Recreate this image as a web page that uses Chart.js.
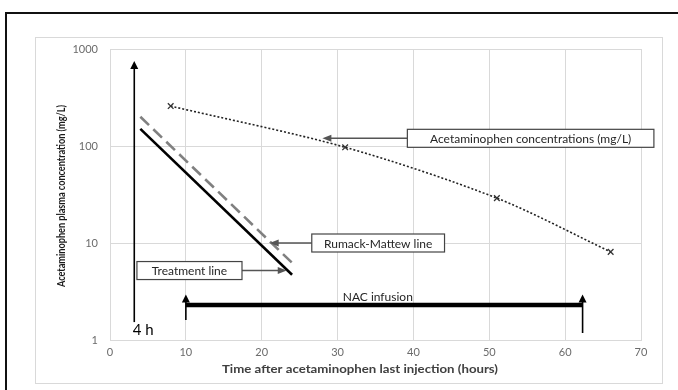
<!DOCTYPE html>
<html>
<head>
<meta charset="utf-8">
<script src="https://cdn.jsdelivr.net/npm/chart.js@4.4.0/dist/chart.umd.min.js"></script>
<style>
  html, body { margin: 0; padding: 0; background: #fff; }
  #wrap { width: 678px; height: 390px; position: relative; overflow: hidden; }
</style>
</head>
<body>
<div id="wrap"><canvas id="myChart" width="678" height="390"></canvas></div>
<script>
// values
const concHours = [8, 31, 51, 66];
const concValues = [258, 97, 29, 8.1];

const nomogramHours = [4, 24];
const rumackValues = [200, 6.25];
const treatmentValues = [150, 4.7];

const nacHours = [10, 62.3];
const nacLevel = [2.3, 2.3];

const xTicks = [0, 10, 20, 30, 40, 50, 60, 70];
const yTicks = [1, 10, 100, 1000];

const xTitle = 'Time after acetaminophen last injection (hours)';
const yTitle = 'Acetaminophen plasma concentration (mg/L)';

// arrows: x, from, to (tip)
const arrows = [
  { x: 3.2, from: 1.53, to: 750 },
  { x: 10, from: 1.61, to: 2.95 },
  { x: 62.3, from: 1.18, to: 2.95 }
];

// callout boxes with a pointer
const notes = [
  { text: 'Acetaminophen concentrations (mg/L)', x0: 39.2, x1: 71.7, y: 120, tipX: 28, tipY: 120 },
  { text: 'Rumack-Mattew line', x0: 26.6, x1: 44.1, y: 10, tipX: 21.05, tipY: 10 },
  { text: 'Treatment line', x0: 3.55, x1: 17.4, y: 5.2, tipX: 23.3, tipY: 5.2 }
];

const plainTexts = [
  { text: 'NAC infusion', x: 35.3, y: 2.77, size: 12, align: 'center' },
  { text: '4 h', x: 3.0, y: 1.26, size: 15, align: 'left' }
];

function arrowHead(ctx, x, y, dx, dy, len, half) {
  // dx,dy unit direction the arrow points to
  ctx.beginPath();
  ctx.moveTo(x, y);
  ctx.lineTo(x - dx * len - dy * half, y - dy * len + dx * half);
  ctx.lineTo(x - dx * len + dy * half, y - dy * len - dx * half);
  ctx.closePath();
  ctx.fill();
}

// text squeezed/stretched to a given length, optionally rotated
function fitText(ctx, text, cx, cy, len, rot) {
  const w = ctx.measureText(text).width;
  ctx.save();
  ctx.translate(cx, cy);
  if (rot) ctx.rotate(rot);
  ctx.scale(len / w, 1);
  ctx.textAlign = 'center';
  ctx.textBaseline = 'middle';
  ctx.fillText(text, 0, 0);
  ctx.restore();
}

const decorations = {
  id: 'decorations',
  beforeDraw(chart) {
    const ctx = chart.ctx;
    ctx.save();
    ctx.fillStyle = '#fff';
    ctx.fillRect(0, 0, chart.width, chart.height);
    // inner chart box
    ctx.strokeStyle = '#d9d9d9';
    ctx.lineWidth = 1;
    ctx.strokeRect(35.5, 37.5, 627, 346);
    // outer figure frame (cut off at right and bottom)
    ctx.strokeStyle = '#111';
    ctx.lineWidth = 2;
    ctx.strokeRect(6, 13, 700, 400);
    ctx.restore();
  },
  afterDraw(chart) {
    const ctx = chart.ctx;
    const xs = chart.scales.x, ys = chart.scales.y;
    ctx.save();

    // vertical arrows
    ctx.strokeStyle = '#000';
    ctx.fillStyle = '#000';
    ctx.lineWidth = 1.6;
    arrows.forEach(a => {
      const px = xs.getPixelForValue(a.x);
      const p0 = ys.getPixelForValue(a.from);
      const p1 = ys.getPixelForValue(a.to);
      ctx.beginPath();
      ctx.moveTo(px, p0);
      ctx.lineTo(px, p1 + 6);
      ctx.stroke();
      arrowHead(ctx, px, p1, 0, -1, 8, 4);
    });

    // callouts
    ctx.font = '12px Lato, "Open Sans", sans-serif';
    ctx.textBaseline = 'middle';
    notes.forEach(n => {
      const l = xs.getPixelForValue(n.x0), r = xs.getPixelForValue(n.x1);
      const cy = ys.getPixelForValue(n.y);
      const tx = xs.getPixelForValue(n.tipX), ty = ys.getPixelForValue(n.tipY);
      const boxSide = tx < l ? l : r;
      ctx.strokeStyle = '#555';
      ctx.fillStyle = '#555';
      ctx.lineWidth = 1.5;
      ctx.beginPath();
      ctx.moveTo(boxSide, cy);
      ctx.lineTo(tx + (tx < l ? 7 : -7), ty);
      ctx.stroke();
      const dx = tx < l ? -1 : 1;
      arrowHead(ctx, tx, ty, dx, 0, 9, 3.5);

      ctx.fillStyle = '#fff';
      ctx.fillRect(l, cy - 9, r - l, 18);
      ctx.strokeStyle = '#444';
      ctx.lineWidth = 1.2;
      ctx.strokeRect(l, cy - 9, r - l, 18);
      ctx.fillStyle = '#262626';
      ctx.textAlign = 'center';
      ctx.fillText(n.text, (l + r) / 2, cy + 1);
    });

    // free texts
    plainTexts.forEach(t => {
      ctx.font = t.size + 'px Lato, "Open Sans", sans-serif';
      ctx.fillStyle = t.size > 12 ? '#000' : '#262626';
      ctx.textAlign = t.align;
      ctx.textBaseline = 'middle';
      ctx.fillText(t.text, xs.getPixelForValue(t.x), ys.getPixelForValue(t.y));
    });

    // axis titles
    ctx.font = 'bold 11px Lato, "Open Sans", sans-serif';
    ctx.fillStyle = '#404040';
    fitText(ctx, xTitle, 360, 369, 276, 0);
    ctx.font = 'bold 11px Lato, "Open Sans", sans-serif';
    ctx.fillStyle = '#1a1a1a';
    fitText(ctx, yTitle, 61, 196, 182, -Math.PI / 2);
    ctx.restore();
  }
};

const ctx = document.getElementById('myChart').getContext('2d');
const myChart = new Chart(ctx, {
  type: 'line',
  data: {
    datasets: [{
      label: 'Acetaminophen concentrations (mg/L)',
      data: concHours.map((h, i) => ({ x: h, y: concValues[i] })),
      borderColor: '#222',
      borderWidth: 1.6,
      borderDash: [2, 2],
      tension: 0.3,
      pointStyle: 'crossRot',
      pointRadius: 4,
      pointBorderWidth: 1.3,
      pointBorderColor: '#333',
      fill: false
    }, {
      label: 'Rumack-Mattew line',
      data: nomogramHours.map((h, i) => ({ x: h, y: rumackValues[i] })),
      borderColor: '#808080',
      borderWidth: 2.6,
      borderDash: [12, 6],
      pointRadius: 0,
      fill: false
    }, {
      label: 'Treatment line',
      data: nomogramHours.map((h, i) => ({ x: h, y: treatmentValues[i] })),
      borderColor: '#000',
      borderWidth: 2.6,
      pointRadius: 0,
      fill: false
    }, {
      label: 'NAC infusion',
      data: nacHours.map((h, i) => ({ x: h, y: nacLevel[i] })),
      borderColor: '#000',
      borderWidth: 4.5,
      pointRadius: 0,
      fill: false
    }]
  },
  options: {
    responsive: false,
    animation: false,
    devicePixelRatio: 1,
    layout: { padding: { left: 53, right: 37, top: 49, bottom: 0 } },
    plugins: {
      legend: { display: false },
      tooltip: { enabled: false }
    },
    scales: {
      x: {
        type: 'linear',
        min: 0,
        max: 70,
        afterBuildTicks: s => { s.ticks = xTicks.map(v => ({ value: v })); },
        afterFit: s => { s.height = 50; },
        ticks: { color: '#6b6b6b', font: { family: 'Lato', size: 11 }, padding: 6, maxRotation: 0 },
        grid: { color: '#d9d9d9', drawTicks: false },
        border: { color: '#d9d9d9' }
      },
      y: {
        type: 'logarithmic',
        min: 1,
        max: 1000,
        afterBuildTicks: s => { s.ticks = yTicks.map(v => ({ value: v })); },
        afterFit: s => { s.width = 57; },
        ticks: {
          color: '#6b6b6b',
          font: { family: 'Lato', size: 11 },
          padding: 12,
          callback: v => String(v)
        },
        grid: { color: '#d9d9d9', drawTicks: false },
        border: { color: '#d9d9d9' }
      }
    }
  },
  plugins: [decorations]
});
</script>
</body>
</html>
